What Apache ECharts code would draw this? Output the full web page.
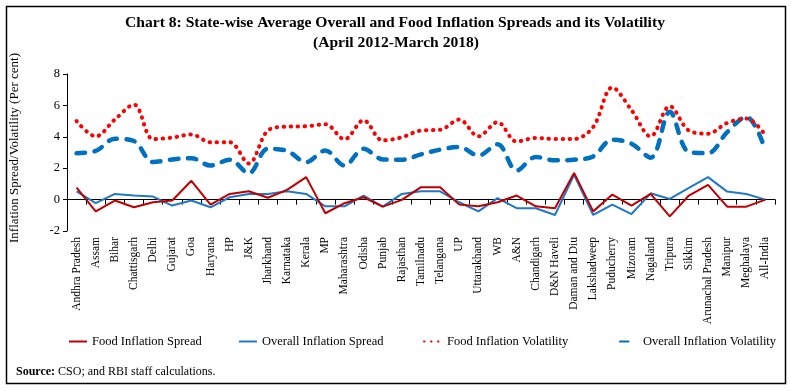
<!DOCTYPE html>
<html>
<head>
<meta charset="utf-8">
<script src="https://cdn.jsdelivr.net/npm/echarts@6/dist/echarts.min.js"></script>
<style>html,body{margin:0;padding:0;background:#fff;}#c{width:791px;height:391px;}</style>
</head>
<body>
<div id="c"></div>
<script>
var categories = ["Andhra Pradesh","Assam","Bihar","Chattisgarh","Delhi","Gujarat","Goa","Haryana","HP","J&K","Jharkhand","Karnataka","Kerala","MP","Maharashtra","Odisha","Punjab","Rajasthan","Tamilnadu","Telangana","UP","Uttarakhand","WB","A&N","Chandigarh","D&N Haveli","Daman and Diu","Lakshadweep","Puducherry","Mizoram","Nagaland","Tripura","Sikkim","Arunachal Pradesh","Manipur","Meghalaya","All-India"];
var foodSpread = [0.77,-0.75,-0.06,-0.49,-0.17,-0.06,1.2,-0.32,0.36,0.53,0.12,0.62,1.43,-0.87,-0.23,0.15,-0.45,-0.02,0.79,0.79,-0.32,-0.43,-0.17,0.26,-0.43,-0.55,1.7,-0.75,0.32,-0.38,0.36,-1.07,0.26,0.94,-0.45,-0.45,0];
var overallSpread = [0.53,-0.23,0.36,0.26,0.19,-0.38,-0.06,-0.49,0.15,0.36,0.36,0.53,0.36,-0.43,-0.43,0.26,-0.45,0.36,0.53,0.53,-0.17,-0.75,0.09,-0.55,-0.55,-0.98,1.58,-0.98,-0.32,-0.92,0.4,0.04,0.75,1.43,0.51,0.36,0];
var foodVol = [5.0,4.03,5.1,6.05,3.85,3.95,4.15,3.65,3.65,2.3,4.4,4.65,4.67,4.8,3.84,5.05,3.77,3.97,4.4,4.45,5.1,4.03,4.93,3.7,3.93,3.86,3.86,4.63,7.14,5.7,4.03,5.95,4.4,4.2,4.88,5.16,4.1];
var overallVol = [2.96,3.1,3.88,3.73,2.39,2.56,2.64,2.17,2.54,1.68,3.24,3.1,2.39,3.13,2.17,3.24,2.56,2.54,2.88,3.18,3.35,2.81,3.52,1.85,2.72,2.5,2.54,2.75,3.82,3.56,2.67,5.59,3.03,2.96,4.3,5.27,3.13];
var yTicks = {min: -2, max: 8, interval: 2};
var seriesNames = ["Food Inflation Spread","Overall Inflation Spread","Food Inflation Volatility","Overall Inflation Volatility"];

var FONT = "Liberation Serif";
var chart = echarts.init(document.getElementById('c'), null, {renderer: 'canvas'});
function legendAt(name, left) {
  return {
    data: [name], left: left, top: 335, padding: 0, itemWidth: 18, itemHeight: 10,
    itemStyle: {opacity: 0},
    textStyle: {fontFamily: FONT, fontSize: 12.5, color: '#000'}
  };
}
var option = {
  animation: false,
  backgroundColor: '#fff',
  grid: {left: 67, right: 16, top: 74, height: 157},
  legend: [
    legendAt(seriesNames[0], 68),
    legendAt(seriesNames[1], 238),
    legendAt(seriesNames[2], 423),
    legendAt(seriesNames[3], 619)
  ],
  xAxis: [
    {
      type: 'category', data: categories, position: 'bottom',
      axisLine: {show: false, onZero: false}, axisTick: {show: false},
      axisLabel: {rotate: 90, interval: 0, fontFamily: FONT, fontSize: 11.5, color: '#000', margin: 6},
      splitLine: {show: false}
    },
    {
      type: 'category', data: categories, position: 'top',
      axisLine: {show: true, onZero: true, lineStyle: {color: '#000', width: 1}},
      axisTick: {show: true, inside: true, length: 5, interval: 0, lineStyle: {color: '#000'}},
      axisLabel: {show: false}, splitLine: {show: false}
    }
  ],
  yAxis: {
    type: 'value', min: yTicks.min, max: yTicks.max, interval: yTicks.interval,
    axisLine: {show: true, lineStyle: {color: '#000', width: 1}},
    axisTick: {show: true, length: 4, lineStyle: {color: '#000'}},
    axisLabel: {fontFamily: FONT, fontSize: 12.5, color: '#000', margin: 7},
    splitLine: {show: false}
  },
  series: [
    {name: seriesNames[0], type: 'line', data: foodSpread, symbol: 'none', xAxisIndex: 0,
     itemStyle: {color: '#C00000'}, lineStyle: {color: '#C00000', width: 2}, z: 4},
    {name: seriesNames[1], type: 'line', data: overallSpread, symbol: 'none', xAxisIndex: 0,
     itemStyle: {color: '#1F78C8'}, lineStyle: {color: '#1F78C8', width: 2}, z: 3},
    {name: seriesNames[2], type: 'line', data: foodVol, symbol: 'none', xAxisIndex: 0, smooth: 0.35,
     itemStyle: {color: '#FF0000'}, lineStyle: {color: '#FF0000', width: 4, type: [0.5, 6.5], cap: 'round'}, z: 2},
    {name: seriesNames[3], type: 'line', data: overallVol, symbol: 'none', xAxisIndex: 0, smooth: 0.35,
     itemStyle: {color: '#0070C0'}, lineStyle: {color: '#0070C0', width: 4.5, type: [8.5, 9.5], cap: 'round'}, z: 1}
  ],
  graphic: [
    {type: 'rect', shape: {x: 6.5, y: 6.5, width: 779, height: 377}, style: {fill: null, stroke: '#000', lineWidth: 1.5}, silent: true},
    {type: 'text', x: 395, y: 23, style: {text: 'Chart 8: State-wise Average Overall and Food Inflation Spreads and its Volatility', font: 'bold 15.6px "Liberation Serif"', fill: '#000', textAlign: 'center', textVerticalAlign: 'middle'}},
    {type: 'text', x: 396, y: 43, style: {text: '(April 2012-March 2018)', font: 'bold 15.6px "Liberation Serif"', fill: '#000', textAlign: 'center', textVerticalAlign: 'middle'}},
    {type: 'text', x: 15, y: 148, rotation: Math.PI / 2, style: {text: 'Inflation Spread/Volatility (Per cent)', font: '13px "Liberation Serif"', fill: '#000', textAlign: 'center', textVerticalAlign: 'middle'}},
    {type: 'text', x: 16, y: 372, style: {text: '{b|Source:} CSO; and RBI staff calculations.', rich: {b: {fontWeight: 'bold', fontFamily: FONT, fontSize: 12}}, font: '12px "Liberation Serif"', fill: '#000', textVerticalAlign: 'middle'}}
  ]
};
chart.setOption(option);
</script>
</body>
</html>
